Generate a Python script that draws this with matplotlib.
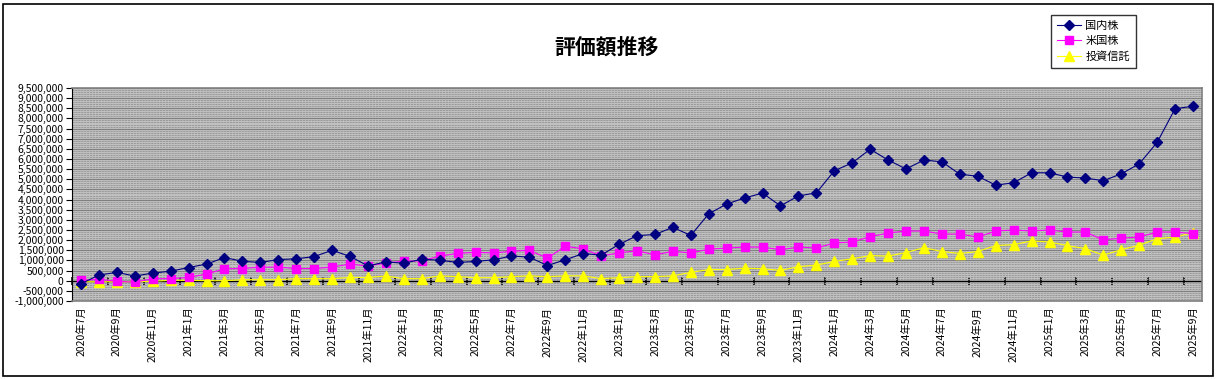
import numpy as np
import matplotlib
matplotlib.use('Agg')
import matplotlib.pyplot as plt
from matplotlib.ticker import FuncFormatter, MultipleLocator
from matplotlib.patches import Rectangle

plt.rcParams['font.family'] = ['Noto Sans CJK JP', 'DejaVu Sans']

# 月のラベル (2020年7月 〜 2025年9月)
months = [f'{2020 + (6 + k) // 12}年{(6 + k) % 12 + 1}月' for k in range(63)]

# 評価額 (円)
domestic = [-150000, 280000, 410000, 230000, 375000, 470000, 650000, 820000, 1140000, 960000,
            900000, 1040000, 1080000, 1190000, 1500000, 1200000, 730000, 930000, 860000, 1060000,
            1010000, 900000, 950000, 1030000, 1220000, 1160000, 750000, 1030000, 1340000, 1260000,
            1790000, 2220000, 2280000, 2630000, 2230000, 3300000, 3780000, 4080000, 4320000, 3690000,
            4180000, 4330000, 5420000, 5810000, 6480000, 5950000, 5510000, 5950000, 5860000, 5250000,
            5150000, 4710000, 4830000, 5320000, 5320000, 5110000, 5060000, 4930000, 5270000, 5760000,
            6820000, 8480000, 8600000]
us = [20000, 70000, -30000, -70000, 100000, 100000, 160000, 330000, 590000, 600000,
      670000, 670000, 600000, 600000, 670000, 820000, 720000, 880000, 960000, 980000,
      1210000, 1350000, 1400000, 1370000, 1450000, 1500000, 1110000, 1700000, 1570000, 1220000,
      1370000, 1480000, 1270000, 1450000, 1370000, 1550000, 1610000, 1660000, 1660000, 1520000,
      1660000, 1610000, 1860000, 1910000, 2170000, 2350000, 2450000, 2450000, 2300000, 2300000,
      2150000, 2450000, 2500000, 2450000, 2500000, 2400000, 2400000, 2010000, 2100000, 2150000,
      2400000, 2400000, 2320000]
trust = [-50000, -50000, -50000, -50000, -30000, 20000, 20000, 0, 0, 50000,
         50000, 50000, 100000, 100000, 100000, 160000, 160000, 230000, 100000, 100000,
         240000, 200000, 150000, 150000, 200000, 240000, 200000, 240000, 240000, 100000,
         150000, 200000, 200000, 240000, 410000, 550000, 550000, 620000, 590000, 510000,
         690000, 770000, 950000, 1080000, 1240000, 1210000, 1390000, 1630000, 1440000, 1340000,
         1440000, 1730000, 1780000, 1960000, 1910000, 1730000, 1580000, 1260000, 1530000, 1750000,
         2070000, 2150000, 2370000]

x = np.arange(len(months))

fig = plt.figure(figsize=(12.17, 3.79), dpi=100)
ax = fig.add_axes([72 / 1217, 1 - 301 / 379, 1130 / 1217, 213 / 379])

# 背景 (Excel風のパターン)
ax.set_facecolor('#c0c0c0')
ax.yaxis.set_minor_locator(MultipleLocator(100000))
ax.grid(which='minor', axis='y', color='#9a9a9a', lw=0.7, ls=(0, (2.2, 0.8)))
ax.grid(which='major', axis='y', color='#808080', lw=0.8)
ax.set_axisbelow(True)

# ゼロの線
ax.axhline(0, color='black', lw=1.0, zorder=2)

ax.plot(x, domestic, color='#000080', lw=0.8, marker='D', ms=5, label='国内株', zorder=5)
ax.plot(x, us, color='#ff00ff', lw=0.8, marker='s', ms=5.5, label='米国株', zorder=4)
ax.plot(x, trust, color='#ffff00', lw=0.8, marker='^', ms=6.5, label='投資信託', zorder=3)

ax.set_xlim(-0.5, len(months) - 0.5)
ax.set_ylim(-1000000, 9500000)
ax.yaxis.set_major_locator(MultipleLocator(500000))
ax.yaxis.set_major_formatter(FuncFormatter(lambda v, p: f'{int(v):,}'))
ax.tick_params(axis='y', which='major', direction='out', length=4, labelsize=7.5, color='black', pad=2)
ax.tick_params(axis='y', which='minor', length=0)

ax.set_xticks(x[::2])
ax.set_xticklabels(months[::2], rotation=90, fontsize=7.5, va='top')
ax.tick_params(axis='x', length=0, pad=4)

for s in ['top', 'right', 'bottom']:
    ax.spines[s].set_color('#808080')
    ax.spines[s].set_linewidth(1.2)
ax.spines['left'].set_color('black')

# ゼロ位置の目盛り
sec = ax.secondary_xaxis(0, transform=ax.transData)
sec.set_xticks(np.arange(-0.5, len(months), 2))
sec.tick_params(direction='inout', length=6, labelbottom=False, color='black', width=1.1)
sec.spines['bottom'].set_visible(False)

fig.text(607 / 1217, 1 - 47 / 379, '評価額推移', fontsize=15, fontweight='bold', ha='center', va='center')

leg = ax.legend(loc='upper left', bbox_to_anchor=(1051 / 1217, 1 - 15 / 379),
                bbox_transform=fig.transFigure, fontsize=8, frameon=True, fancybox=False,
                edgecolor='black', handlelength=2.2, borderpad=0.5, labelspacing=0.5,
                handletextpad=0.4, borderaxespad=0)
leg.get_frame().set_linewidth(1.0)

fig.patches.append(Rectangle((3 / 1217, 3 / 379), 1210 / 1217, 372 / 379, transform=fig.transFigure,
                             fill=False, edgecolor='black', lw=1.2))

fig.savefig('out.png', dpi=100)
